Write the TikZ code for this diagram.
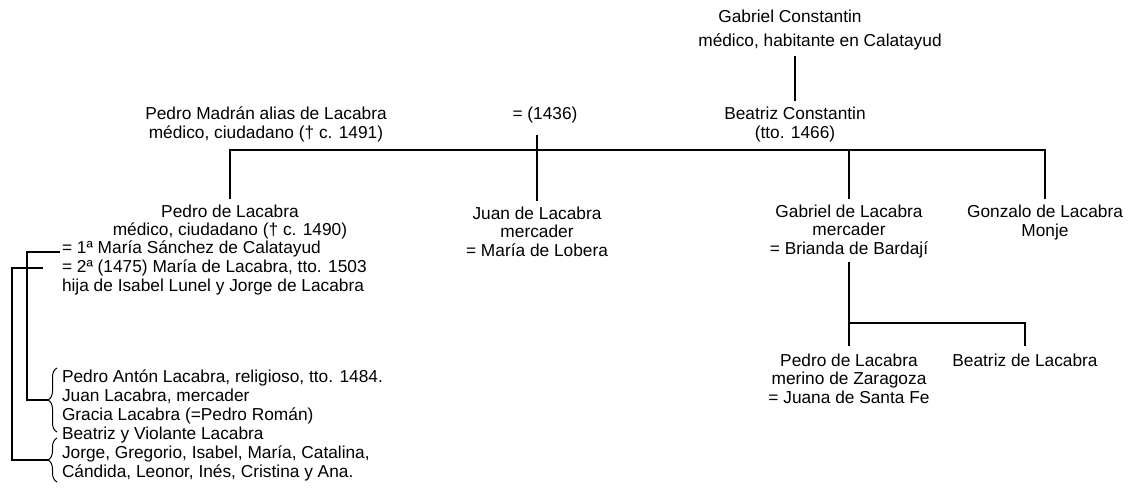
\documentclass[tikz,border=0pt]{standalone}
\usepackage{fontspec}
\setmainfont{Liberation Sans}
\usetikzlibrary{positioning, calc, decorations.pathreplacing}
\newcommand\genfont{\fontsize{17.3pt}{18.6pt}\selectfont}
\newcommand\kidfont{\fontsize{17.3pt}{19pt}\selectfont}

\begin{document}
\begin{tikzpicture}[
    x=1pt, y=-1pt,
    person/.style={align=center, inner sep=0pt, outer sep=0pt, font=\genfont},
    personleft/.style={person, align=left},
    kin/.style={line width=1.3pt},
    kinbrace/.style={line width=1pt, decorate, decoration={brace, amplitude=9pt}},
]
\useasboundingbox (0,0) rectangle (1142,496);

% Grandparents and parents
\node[person] (gabrielC) at (790,30) {Gabriel Constantin\\[5pt]\hspace*{60pt}médico, habitante en Calatayud};
\node[person] (beatrizC) at (795,124.5) {Beatriz Constantin\\(tto. 1466)};
\node[person] (pedroM) at (266,124.5) {Pedro Madrán alias de Lacabra\\médico, ciudadano († c. 1491)};
\node[person] (marriage) at (545,115) {= (1436)};

% Children
\node[person] (pedroL) at (230,222) {Pedro de Lacabra\\médico, ciudadano († c. 1490)};
\node[personleft, anchor=west] (pedroW) at (62,268) {= 1ª María Sánchez de Calatayud\\= 2ª (1475) María de Lacabra, tto. 1503\\hija de Isabel Lunel y Jorge de Lacabra};
\node[person] (juanL) at (537,231.5) {Juan de Lacabra\\mercader\\= María de Lobera};
\node[person] (gabrielL) at (849,231.5) {Gabriel de Lacabra\\mercader\\= Brianda de Bardají};
\node[person] (gonzaloL) at (1045,222.5) {Gonzalo de Lacabra\\Monje};

% Grandchildren
\node[personleft, anchor=west, font=\kidfont] (kids) at (62,425.5) {Pedro Antón Lacabra, religioso, tto. 1484.\\Juan Lacabra, mercader\\Gracia Lacabra (=Pedro Román)\\Beatriz y Violante Lacabra\\Jorge, Gregorio, Isabel, María, Catalina,\\Cándida, Leonor, Inés, Cristina y Ana.};
\node[person] (pedroZ) at (849,378.5) {Pedro de Lacabra\\merino de Zaragoza\\= Juana de Santa Fe};
\node[person] (beatrizL) at (1025,360) {Beatriz de Lacabra};

% Lines
\coordinate (bar) at (0,150);
\coordinate (bar2) at (0,323);
\draw[kin] ([yshift=-6pt]gabrielC.south -| beatrizC.north) -- ([yshift=6pt]beatrizC.north);
\draw[kin] ([yshift=-12pt]marriage.south -| juanL.north) -- ([yshift=6pt]juanL.north);
\draw[kin] ([yshift=6pt]pedroL.north) |- (bar -| gonzaloL.north) -- ([yshift=6pt]gonzaloL.north);
\draw[kin] ([yshift=6pt]gabrielL.north) -- (bar -| gabrielL.north);
\draw[kin] ([yshift=-4pt]gabrielL.south) -- ([yshift=8pt]pedroZ.north);
\draw[kin] (bar2 -| pedroZ.north) -| ([yshift=8pt]beatrizL.north);

% Braces for the two marriages
\coordinate (wife1) at (60,252);
\coordinate (wife2) at (43,268);
\coordinate (tip1) at (48,400);
\coordinate (tip2) at (48,460);
\draw[kinbrace] (57,432) -- (57,368);
\draw[kinbrace] (57,482) -- (57,438);
\draw[kin] (wife1) -- ++(-33,0) |- (tip1);
\draw[kin] (wife2) -- ++(-31,0) |- (tip2);

\end{tikzpicture}
\end{document}
